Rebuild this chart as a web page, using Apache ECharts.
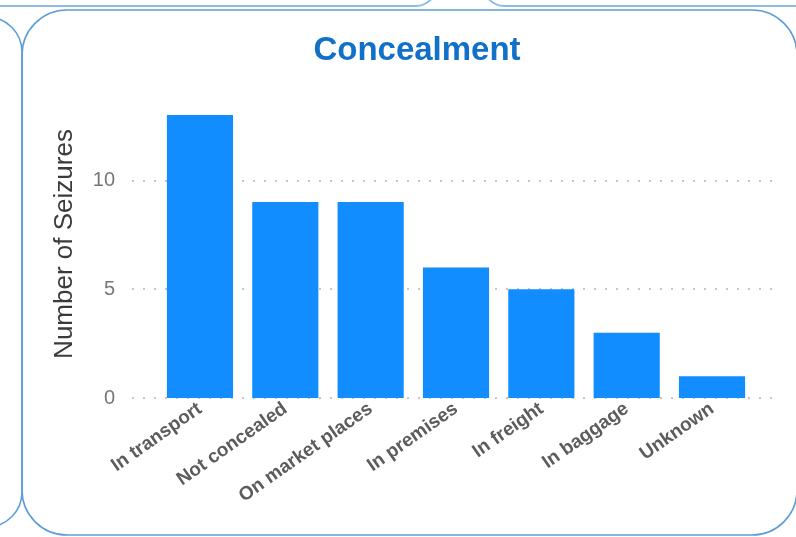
<!DOCTYPE html>
<html>
<head>
<meta charset="utf-8">
<script src="https://cdn.jsdelivr.net/npm/echarts@6/dist/echarts.min.js"></script>
<style>
html,body{margin:0;padding:0;background:#fff;}
#chart{width:796px;height:537px;}
</style>
</head>
<body>
<div id="chart"></div>
<script>
const titleText = 'Concealment';
const yAxisTitle = 'Number of Seizures';
const categories = ['In transport', 'Not concealed', 'On market places', 'In premises', 'In freight', 'In baggage', 'Unknown'];
const seizures = [13, 9, 9, 6, 5, 3, 1];
const yMin = 0, yMax = 13, yStep = 5;

const chart = echarts.init(document.getElementById('chart'));
const borderColor = '#5E9ED6';
const font = 'Liberation Sans, Arial, sans-serif';
const option = {
  backgroundColor: '#fff',
  animation: false,
  title: {
    text: titleText,
    left: 412, top: 29, textAlign: 'center',
    textStyle: { color: '#1170C8', fontSize: 33, fontWeight: 'bold', fontFamily: font }
  },
  graphic: [
    { type: 'rect', silent: true, z: -1, shape: { x: 22, y: 10, width: 775, height: 525, r: 45 }, style: { fill: 'none', stroke: borderColor, lineWidth: 1.6 } },
    { type: 'rect', silent: true, z: -1, shape: { x: -200, y: 17, width: 222, height: 510, r: 35 }, style: { fill: 'none', stroke: borderColor, lineWidth: 1.6 } },
    { type: 'rect', silent: true, z: -1, shape: { x: -50, y: -100, width: 486, height: 106, r: 20 }, style: { fill: 'none', stroke: '#8DBCE6', lineWidth: 2 } },
    { type: 'rect', silent: true, z: -1, shape: { x: 484, y: -100, width: 400, height: 106, r: 20 }, style: { fill: 'none', stroke: '#8DBCE6', lineWidth: 2 } },
    {
      type: 'text', silent: true, x: 65, y: 244, rotation: Math.PI / 2,
      style: { text: yAxisTitle, fill: '#3b3b3b', fontSize: 26, fontFamily: font, align: 'center', verticalAlign: 'middle' }
    }
  ],
  grid: [
    { left: 157.3, right: 41.3, top: 115, bottom: 139, containLabel: false },
    { left: 132, right: 24, top: 115, bottom: 139, containLabel: false }
  ],
  xAxis: [
    {
      type: 'category', gridIndex: 0, data: categories,
      axisLine: { show: false }, axisTick: { show: false },
      axisLabel: {
        rotate: 35, margin: 9, interval: 0,
        color: '#5c5c5c', fontSize: 19, fontWeight: 'bold',
        fontFamily: font
      }
    },
    { type: 'value', gridIndex: 1, show: false, min: 0, max: 1 }
  ],
  yAxis: [
    { type: 'value', gridIndex: 0, min: yMin, max: yMax, interval: yStep, show: false, splitLine: { show: false } },
    {
      type: 'value', gridIndex: 1, min: yMin, max: yMax, interval: yStep,
      axisLine: { show: false }, axisTick: { show: false },
      axisLabel: { margin: 17, color: '#777', fontSize: 20, showMaxLabel: false, fontFamily: font },
      splitLine: { show: true, showMaxLine: false, lineStyle: { color: '#B4B4B4', type: [2, 9], width: 1.5 } }
    }
  ],
  series: [
    {
      type: 'bar', xAxisIndex: 0, yAxisIndex: 0,
      data: seizures, barCategoryGap: '22.5%',
      itemStyle: { color: '#118DFF' }
    }
  ]
};
chart.setOption(option);
</script>
</body>
</html>
